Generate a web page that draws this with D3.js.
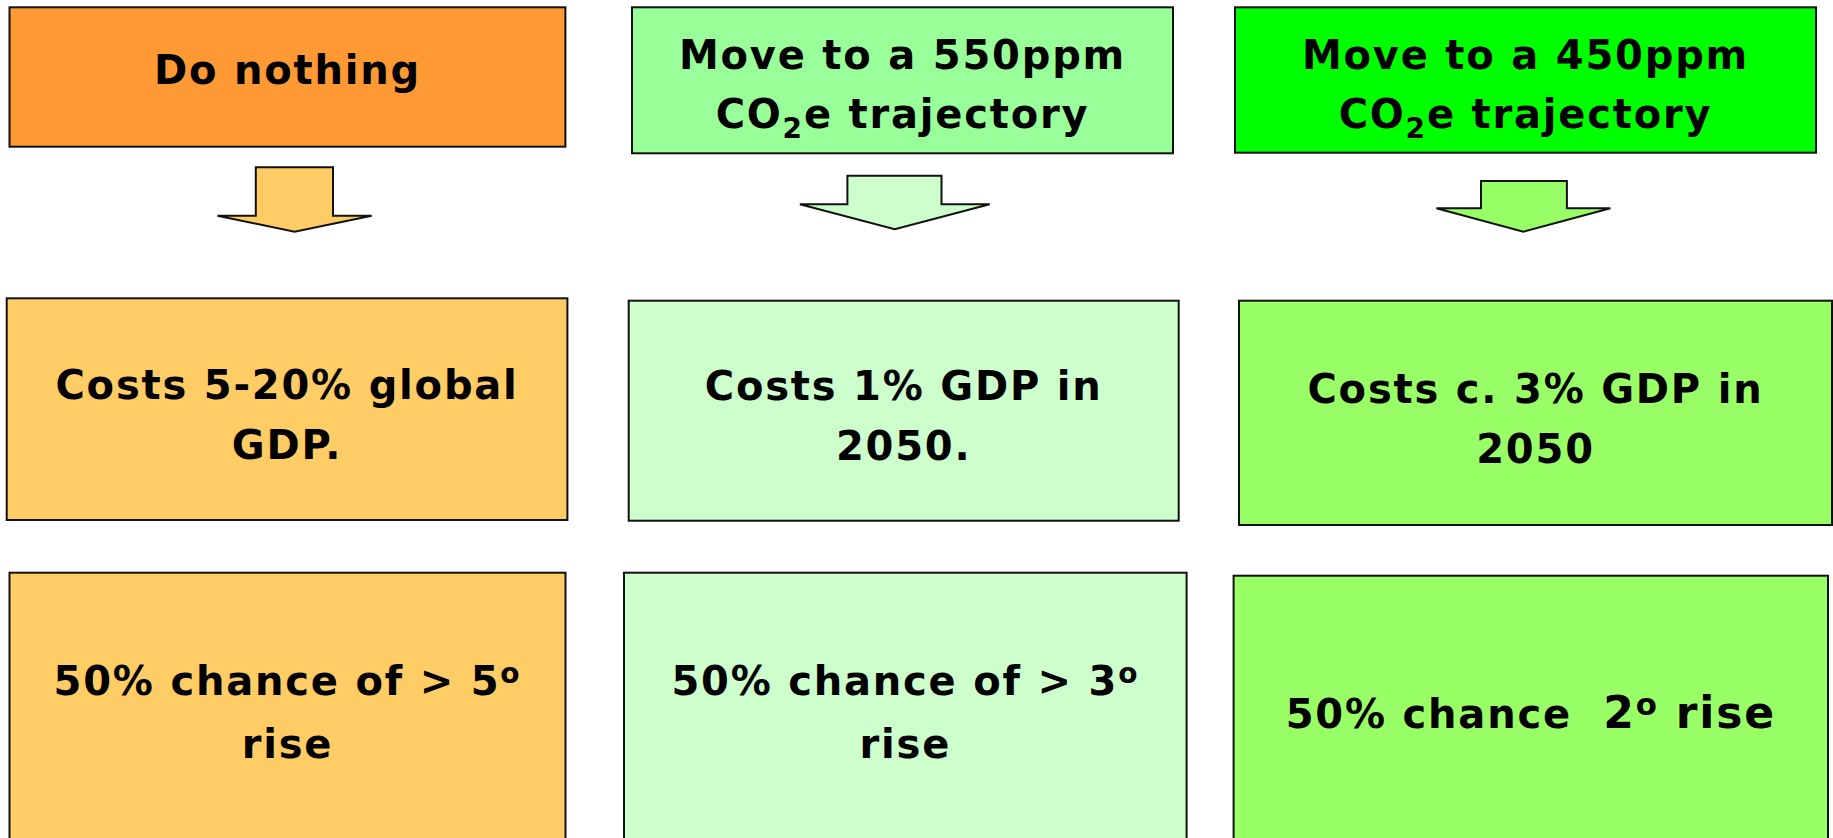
<!DOCTYPE html>
<html>
<head>
<meta charset="utf-8">
<script src="https://cdn.jsdelivr.net/npm/d3@7"></script>
<style>
  html, body { margin: 0; padding: 0; background: #fff; overflow: hidden; }
  text { font-family: "DejaVu Sans", Verdana, sans-serif; font-weight: bold; white-space: pre; }
</style>
</head>
<body>
<div id="chart"></div>
<script>
// 三个情景：标题 / 成本 / 升温概率
// 文本里 _x 表示下标, ^x 表示上标, {...} 表示放大的一段
const headings = [
    ["Do nothing"],
    ["Move to a 550ppm", "CO_2e trajectory"],
    ["Move to a 450ppm", "CO_2e trajectory"]
];
const costs = [
    ["Costs 5-20% global", "GDP."],
    ["Costs 1% GDP in", "2050."],
    ["Costs c. 3% GDP in", "2050"]
];
const rises = [
    ["50% chance of > 5^o", "rise"],
    ["50% chance of > 3^o", "rise"],
    ["50% chance  {2^o rise}"]
];
const headFill = ["#FF9933", "#99FF99", "#00FF00"];
const bodyFill = ["#FFCC66", "#CCFFCC", "#99FF66"];

// 布局：每个框 [x0, y0, x1, y1, 第一行基线]
const layout = {
    rows: [
        { lineHeight: 59, boxes: [[9.5, 7.3, 565.4, 146.7, 84], [632, 7.3, 1173, 153.3, 69.3], [1235, 7.3, 1816, 152.7, 68.5]] },
        { lineHeight: 60, boxes: [[6.7, 298.3, 567.4, 520, 398.5], [628.7, 300.7, 1178.7, 520.7, 400], [1239, 300.7, 1832, 525, 402.7]] },
        { lineHeight: 63, boxes: [[9.5, 572.7, 565.5, 850, 695], [624, 572.7, 1186.6, 850, 695], [1233.6, 575.7, 1828, 850, 727.7]] }
    ],
    // 箭头 [杆左, 杆右, 顶, 肩, 翼左, 翼右, 尖]
    arrows: [
        [255.8, 333, 167.3, 215.7, 217.5, 371.7, 231.7],
        [847.4, 941.5, 175.7, 204.3, 799.9, 989.7, 229.3],
        [1481, 1566.9, 181, 208.3, 1436.4, 1610.4, 231.7]
    ],
    fontSize: 40,
    bigSize: 44,
    letterSpacing: 1.8
};

const width = 1833, height = 838;

const svg = d3.select("#chart").append("svg")
    .attr("width", width)
    .attr("height", height)
    .attr("viewBox", `0 0 ${width} ${height}`);

// 把一行文字拆成若干段
function parseLine(str) {
    const segs = [];
    let big = false;
    let buf = "";
    const flush = () => { if (buf) { segs.push({ t: buf, kind: "normal", big }); buf = ""; } };
    for (let i = 0; i < str.length; i++) {
        const ch = str[i];
        if (ch === "{") { flush(); big = true; }
        else if (ch === "}") { flush(); big = false; }
        else if (ch === "_" || ch === "^") {
            flush();
            segs.push({ t: str[i + 1], kind: ch === "_" ? "sub" : "sup", big });
            i++;
        } else buf += ch;
    }
    flush();
    return segs;
}

function drawLines(g, lines, cx, y0, lh) {
    lines.forEach((line, li) => {
        const text = g.append("text")
            .attr("x", cx)
            .attr("y", y0 + li * lh)
            .attr("text-anchor", "middle")
            .style("letter-spacing", layout.letterSpacing + "px")
            .style("fill", "#000");
        let shift = 0;
        parseLine(line).forEach(seg => {
            const base = seg.big ? layout.bigSize : layout.fontSize;
            let target = 0, size = base;
            if (seg.kind === "sub") { target = base * 0.25; size = base * 0.7; }
            if (seg.kind === "sup") { target = -base * 0.3; size = base * 0.7; }
            text.append("tspan")
                .attr("dy", target - shift)
                .style("font-size", size + "px")
                .text(seg.t);
            shift = target;
        });
    });
}

const rowTexts = [headings, costs, rises];
const rowFills = [headFill, bodyFill, bodyFill];

layout.rows.forEach((row, r) => {
    const g = svg.append("g").attr("class", "row-" + r);
    g.selectAll("rect")
        .data(row.boxes)
        .enter()
        .append("rect")
        .attr("x", d => d[0])
        .attr("y", d => d[1])
        .attr("width", d => d[2] - d[0])
        .attr("height", d => d[3] - d[1])
        .style("fill", (d, i) => rowFills[r][i])
        .style("stroke", "#111")
        .style("stroke-width", 2);

    row.boxes.forEach((b, i) => {
        drawLines(g, rowTexts[r][i], (b[0] + b[2]) / 2, b[4], row.lineHeight);
    });
});

// 下箭头
const arrowLine = d3.line();
svg.append("g").attr("class", "arrows")
    .selectAll("path")
    .data(layout.arrows)
    .enter()
    .append("path")
    .attr("d", a => {
        const [sl, sr, top, sh, wl, wr, tip] = a;
        const mid = (wl + wr) / 2;
        return arrowLine([[sl, top], [sr, top], [sr, sh], [wr, sh], [mid, tip], [wl, sh], [sl, sh]]) + "Z";
    })
    .style("fill", (d, i) => bodyFill[i])
    .style("stroke", "#111")
    .style("stroke-width", 2)
    .style("stroke-linejoin", "miter");
</script>
</body>
</html>
